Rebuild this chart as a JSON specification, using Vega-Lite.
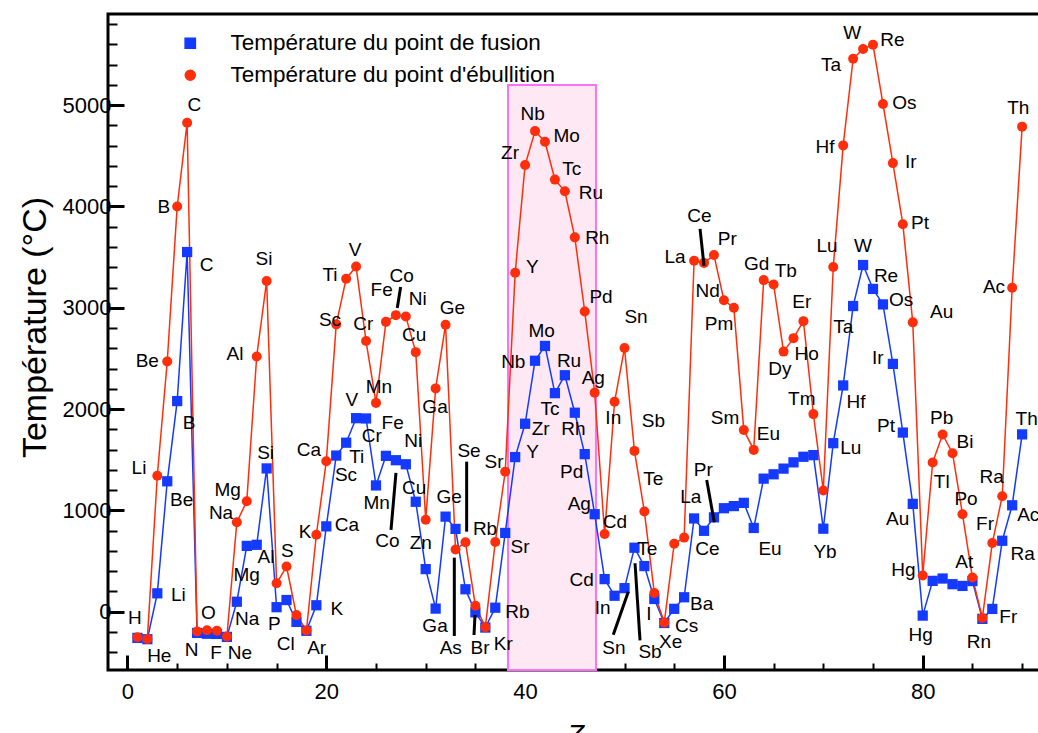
{
  "$schema": "https://vega.github.io/schema/vega-lite/v6.json",
  "width": 934,
  "height": 656,
  "autosize": {"type": "none"},
  "padding": {"left": 108, "top": 14, "right": 0, "bottom": 63},
  "config": {
    "font": "Liberation Sans",
    "view": {"stroke": "black", "strokeWidth": 3},
    "axis": {"labelFont": "Liberation Sans", "titleFont": "Liberation Sans", "titleFontWeight": "normal", "labelColor": "black", "titleColor": "black", "tickColor": "black"}
  },
  "datasets": {
    "temps": [
      {"Z":1,"el":"H","fusion":-259,"ebullition":-253},
      {"Z":2,"el":"He","fusion":-272,"ebullition":-269},
      {"Z":3,"el":"Li","fusion":181,"ebullition":1342},
      {"Z":4,"el":"Be","fusion":1287,"ebullition":2470},
      {"Z":5,"el":"B","fusion":2079,"ebullition":4000},
      {"Z":6,"el":"C","fusion":3550,"ebullition":4827},
      {"Z":7,"el":"N","fusion":-210,"ebullition":-196},
      {"Z":8,"el":"O","fusion":-218,"ebullition":-183},
      {"Z":9,"el":"F","fusion":-220,"ebullition":-188},
      {"Z":10,"el":"Ne","fusion":-249,"ebullition":-246},
      {"Z":11,"el":"Na","fusion":98,"ebullition":883},
      {"Z":12,"el":"Mg","fusion":649,"ebullition":1090},
      {"Z":13,"el":"Al","fusion":660,"ebullition":2519},
      {"Z":14,"el":"Si","fusion":1414,"ebullition":3265},
      {"Z":15,"el":"P","fusion":44,"ebullition":280},
      {"Z":16,"el":"S","fusion":115,"ebullition":445},
      {"Z":17,"el":"Cl","fusion":-101,"ebullition":-34},
      {"Z":18,"el":"Ar","fusion":-189,"ebullition":-186},
      {"Z":19,"el":"K","fusion":63,"ebullition":759},
      {"Z":20,"el":"Ca","fusion":842,"ebullition":1484},
      {"Z":21,"el":"Sc","fusion":1541,"ebullition":2836},
      {"Z":22,"el":"Ti","fusion":1668,"ebullition":3287},
      {"Z":23,"el":"V","fusion":1910,"ebullition":3407},
      {"Z":24,"el":"Cr","fusion":1907,"ebullition":2671},
      {"Z":25,"el":"Mn","fusion":1246,"ebullition":2061},
      {"Z":26,"el":"Fe","fusion":1538,"ebullition":2861},
      {"Z":27,"el":"Co","fusion":1495,"ebullition":2927},
      {"Z":28,"el":"Ni","fusion":1455,"ebullition":2913},
      {"Z":29,"el":"Cu","fusion":1085,"ebullition":2562},
      {"Z":30,"el":"Zn","fusion":420,"ebullition":907},
      {"Z":31,"el":"Ga","fusion":30,"ebullition":2204},
      {"Z":32,"el":"Ge","fusion":938,"ebullition":2833},
      {"Z":33,"el":"As","fusion":817,"ebullition":614},
      {"Z":34,"el":"Se","fusion":221,"ebullition":685},
      {"Z":35,"el":"Br","fusion":-7,"ebullition":59},
      {"Z":36,"el":"Kr","fusion":-157,"ebullition":-153},
      {"Z":37,"el":"Rb","fusion":39,"ebullition":688},
      {"Z":38,"el":"Sr","fusion":777,"ebullition":1382},
      {"Z":39,"el":"Y","fusion":1526,"ebullition":3345},
      {"Z":40,"el":"Zr","fusion":1855,"ebullition":4409},
      {"Z":41,"el":"Nb","fusion":2477,"ebullition":4744},
      {"Z":42,"el":"Mo","fusion":2623,"ebullition":4639},
      {"Z":43,"el":"Tc","fusion":2157,"ebullition":4265},
      {"Z":44,"el":"Ru","fusion":2334,"ebullition":4150},
      {"Z":45,"el":"Rh","fusion":1964,"ebullition":3695},
      {"Z":46,"el":"Pd","fusion":1555,"ebullition":2963},
      {"Z":47,"el":"Ag","fusion":962,"ebullition":2162},
      {"Z":48,"el":"Cd","fusion":321,"ebullition":767},
      {"Z":49,"el":"In","fusion":157,"ebullition":2072},
      {"Z":50,"el":"Sn","fusion":232,"ebullition":2602},
      {"Z":51,"el":"Sb","fusion":631,"ebullition":1587},
      {"Z":52,"el":"Te","fusion":450,"ebullition":988},
      {"Z":53,"el":"I","fusion":125,"ebullition":184},
      {"Z":54,"el":"Xe","fusion":-112,"ebullition":-108},
      {"Z":55,"el":"Cs","fusion":28,"ebullition":671},
      {"Z":56,"el":"Ba","fusion":142,"ebullition":731},
      {"Z":57,"el":"La","fusion":920,"ebullition":3464},
      {"Z":58,"el":"Ce","fusion":798,"ebullition":3443},
      {"Z":59,"el":"Pr","fusion":931,"ebullition":3520},
      {"Z":60,"el":"Nd","fusion":1021,"ebullition":3074},
      {"Z":61,"el":"Pm","fusion":1042,"ebullition":3000},
      {"Z":62,"el":"Sm","fusion":1074,"ebullition":1794},
      {"Z":63,"el":"Eu","fusion":826,"ebullition":1597},
      {"Z":64,"el":"Gd","fusion":1313,"ebullition":3273},
      {"Z":65,"el":"Tb","fusion":1356,"ebullition":3230},
      {"Z":66,"el":"Dy","fusion":1412,"ebullition":2567},
      {"Z":67,"el":"Ho","fusion":1474,"ebullition":2700},
      {"Z":68,"el":"Er","fusion":1529,"ebullition":2868},
      {"Z":69,"el":"Tm","fusion":1545,"ebullition":1950},
      {"Z":70,"el":"Yb","fusion":819,"ebullition":1196},
      {"Z":71,"el":"Lu","fusion":1663,"ebullition":3402},
      {"Z":72,"el":"Hf","fusion":2233,"ebullition":4603},
      {"Z":73,"el":"Ta","fusion":3017,"ebullition":5458},
      {"Z":74,"el":"W","fusion":3422,"ebullition":5555},
      {"Z":75,"el":"Re","fusion":3186,"ebullition":5596},
      {"Z":76,"el":"Os","fusion":3033,"ebullition":5012},
      {"Z":77,"el":"Ir","fusion":2446,"ebullition":4428},
      {"Z":78,"el":"Pt","fusion":1768,"ebullition":3825},
      {"Z":79,"el":"Au","fusion":1064,"ebullition":2856},
      {"Z":80,"el":"Hg","fusion":-39,"ebullition":357},
      {"Z":81,"el":"Tl","fusion":304,"ebullition":1473},
      {"Z":82,"el":"Pb","fusion":327,"ebullition":1749},
      {"Z":83,"el":"Bi","fusion":271,"ebullition":1564},
      {"Z":84,"el":"Po","fusion":254,"ebullition":962},
      {"Z":85,"el":"At","fusion":302,"ebullition":337},
      {"Z":86,"el":"Rn","fusion":-71,"ebullition":-62},
      {"Z":87,"el":"Fr","fusion":27,"ebullition":677},
      {"Z":88,"el":"Ra","fusion":700,"ebullition":1140},
      {"Z":89,"el":"Ac","fusion":1050,"ebullition":3198},
      {"Z":90,"el":"Th","fusion":1750,"ebullition":4788}
    ],
    "labels": [
      {"lab":"H","lz":0.75,"lt":-65},
      {"lab":"He","lz":3.2,"lt":-434},
      {"lab":"Li","lz":5.11,"lt":165},
      {"lab":"Li","lz":1.16,"lt":1422},
      {"lab":"Be","lz":5.45,"lt":1103},
      {"lab":"Be","lz":1.99,"lt":2475},
      {"lab":"B","lz":6.19,"lt":1866},
      {"lab":"B","lz":3.67,"lt":3998},
      {"lab":"C","lz":6.72,"lt":5002},
      {"lab":"C","lz":7.97,"lt":3423},
      {"lab":"N","lz":6.46,"lt":-378},
      {"lab":"O","lz":8.13,"lt":-10},
      {"lab":"F","lz":8.9,"lt":-405},
      {"lab":"Ne","lz":11.32,"lt":-405},
      {"lab":"Na","lz":12.05,"lt":-75},
      {"lab":"Na","lz":9.41,"lt":977},
      {"lab":"Mg","lz":11.99,"lt":362},
      {"lab":"Mg","lz":10.08,"lt":1201},
      {"lab":"Al","lz":13.93,"lt":537},
      {"lab":"Al","lz":10.81,"lt":2541},
      {"lab":"Si","lz":13.9,"lt":1564},
      {"lab":"Si","lz":13.73,"lt":3479},
      {"lab":"P","lz":14.77,"lt":-121},
      {"lab":"S","lz":16.08,"lt":599},
      {"lab":"Cl","lz":15.92,"lt":-319},
      {"lab":"Ar","lz":19.03,"lt":-361},
      {"lab":"K","lz":17.86,"lt":790},
      {"lab":"K","lz":21.05,"lt":24},
      {"lab":"Ca","lz":18.26,"lt":1593},
      {"lab":"Ca","lz":22.08,"lt":856},
      {"lab":"Sc","lz":20.37,"lt":2880},
      {"lab":"Sc","lz":21.98,"lt":1349},
      {"lab":"Ti","lz":20.37,"lt":3324},
      {"lab":"Ti","lz":23.06,"lt":1524},
      {"lab":"V","lz":22.89,"lt":3571},
      {"lab":"V","lz":22.56,"lt":2090},
      {"lab":"Cr","lz":23.72,"lt":2837},
      {"lab":"Cr","lz":24.57,"lt":1734},
      {"lab":"Mn","lz":25.3,"lt":2215},
      {"lab":"Mn","lz":25.07,"lt":1076},
      {"lab":"Fe","lz":25.57,"lt":3176},
      {"lab":"Fe","lz":26.68,"lt":1866},
      {"lab":"Co","lz":27.59,"lt":3314},
      {"lab":"Co","lz":26.14,"lt":698},
      {"lab":"Ni","lz":29.19,"lt":3084},
      {"lab":"Ni","lz":28.75,"lt":1685},
      {"lab":"Cu","lz":28.85,"lt":2731},
      {"lab":"Cu","lz":28.85,"lt":1218},
      {"lab":"Zn","lz":29.5,"lt":675},
      {"lab":"Ga","lz":30.94,"lt":2018},
      {"lab":"Ga","lz":30.94,"lt":-138},
      {"lab":"Ge","lz":32.68,"lt":3001},
      {"lab":"Ge","lz":32.37,"lt":1135},
      {"lab":"As","lz":32.52,"lt":-355},
      {"lab":"Se","lz":34.36,"lt":1589},
      {"lab":"Br","lz":35.46,"lt":-355},
      {"lab":"Kr","lz":37.81,"lt":-322},
      {"lab":"Rb","lz":35.97,"lt":813},
      {"lab":"Rb","lz":39.22,"lt":-6},
      {"lab":"Sr","lz":36.87,"lt":1481},
      {"lab":"Sr","lz":39.49,"lt":642},
      {"lab":"Y","lz":40.72,"lt":3406},
      {"lab":"Y","lz":40.76,"lt":1574},
      {"lab":"Zr","lz":38.48,"lt":4525},
      {"lab":"Zr","lz":41.57,"lt":1804},
      {"lab":"Nb","lz":40.76,"lt":4913},
      {"lab":"Nb","lz":38.81,"lt":2468},
      {"lab":"Mo","lz":44.19,"lt":4696},
      {"lab":"Mo","lz":41.67,"lt":2771},
      {"lab":"Tc","lz":44.69,"lt":4367},
      {"lab":"Tc","lz":42.51,"lt":1998},
      {"lab":"Ru","lz":46.63,"lt":4130},
      {"lab":"Ru","lz":44.42,"lt":2475},
      {"lab":"Rh","lz":47.26,"lt":3692},
      {"lab":"Rh","lz":44.85,"lt":1804},
      {"lab":"Pd","lz":47.64,"lt":3104},
      {"lab":"Pd","lz":44.69,"lt":1382},
      {"lab":"Ag","lz":46.86,"lt":2304},
      {"lab":"Ag","lz":45.45,"lt":1063},
      {"lab":"Cd","lz":49.04,"lt":888},
      {"lab":"Cd","lz":45.69,"lt":313},
      {"lab":"In","lz":48.87,"lt":1909},
      {"lab":"In","lz":47.81,"lt":34},
      {"lab":"Sn","lz":51.16,"lt":2912},
      {"lab":"Sn","lz":48.94,"lt":-355},
      {"lab":"Sb","lz":52.9,"lt":1883},
      {"lab":"Sb","lz":52.57,"lt":-401},
      {"lab":"Te","lz":52.9,"lt":1307},
      {"lab":"Te","lz":52.29,"lt":619},
      {"lab":"I","lz":52.46,"lt":-23},
      {"lab":"Xe","lz":54.65,"lt":-302},
      {"lab":"Cs","lz":56.26,"lt":-138},
      {"lab":"Ba","lz":57.77,"lt":76},
      {"lab":"La","lz":55.08,"lt":3499},
      {"lab":"La","lz":56.66,"lt":1129},
      {"lab":"Ce","lz":57.53,"lt":3906},
      {"lab":"Ce","lz":58.33,"lt":619},
      {"lab":"Pr","lz":60.34,"lt":3676},
      {"lab":"Pr","lz":57.93,"lt":1399},
      {"lab":"Nd","lz":58.37,"lt":3169},
      {"lab":"Pm","lz":59.51,"lt":2840},
      {"lab":"Sm","lz":60.11,"lt":1909},
      {"lab":"Eu","lz":64.47,"lt":1754},
      {"lab":"Eu","lz":64.64,"lt":619},
      {"lab":"Gd","lz":63.3,"lt":3432},
      {"lab":"Tb","lz":66.22,"lt":3366},
      {"lab":"Dy","lz":65.64,"lt":2396},
      {"lab":"Ho","lz":68.33,"lt":2541},
      {"lab":"Er","lz":67.83,"lt":3054},
      {"lab":"Tm","lz":67.83,"lt":2100},
      {"lab":"Yb","lz":70.17,"lt":592},
      {"lab":"Lu","lz":70.37,"lt":3610},
      {"lab":"Lu","lz":72.76,"lt":1613},
      {"lab":"Hf","lz":70.17,"lt":4590},
      {"lab":"Hf","lz":73.29,"lt":2067},
      {"lab":"Ta","lz":70.77,"lt":5397},
      {"lab":"Ta","lz":72.01,"lt":2807},
      {"lab":"W","lz":72.92,"lt":5710},
      {"lab":"W","lz":73.99,"lt":3610},
      {"lab":"Re","lz":76.94,"lt":5644},
      {"lab":"Re","lz":76.31,"lt":3314},
      {"lab":"Os","lz":78.15,"lt":5019},
      {"lab":"Os","lz":77.82,"lt":3077},
      {"lab":"Ir","lz":78.79,"lt":4442},
      {"lab":"Ir","lz":75.47,"lt":2507},
      {"lab":"Pt","lz":79.73,"lt":3840},
      {"lab":"Pt","lz":76.31,"lt":1836},
      {"lab":"Au","lz":81.91,"lt":2956},
      {"lab":"Au","lz":77.48,"lt":912},
      {"lab":"Hg","lz":78.05,"lt":412},
      {"lab":"Hg","lz":79.8,"lt":-230},
      {"lab":"Tl","lz":81.91,"lt":1277},
      {"lab":"Pb","lz":81.91,"lt":1909},
      {"lab":"Bi","lz":84.26,"lt":1672},
      {"lab":"Po","lz":84.36,"lt":1113},
      {"lab":"At","lz":84.18,"lt":494},
      {"lab":"Rn","lz":85.66,"lt":-296},
      {"lab":"Fr","lz":86.27,"lt":863},
      {"lab":"Fr","lz":88.61,"lt":-49},
      {"lab":"Ra","lz":86.94,"lt":1333},
      {"lab":"Ra","lz":90.06,"lt":570},
      {"lab":"Ac","lz":87.17,"lt":3208},
      {"lab":"Ac","lz":90.62,"lt":955},
      {"lab":"Th","lz":89.62,"lt":4969},
      {"lab":"Th","lz":90.46,"lt":1902}
    ],
    "leaders": [
      {"z1":27.48,"t1":3205,"z2":27.14,"t2":2998},
      {"z1":27.01,"t1":1369,"z2":26.51,"t2":807},
      {"z1":34.12,"t1":1481,"z2":34.12,"t2":790},
      {"z1":32.88,"t1":533,"z2":32.88,"t2":-240},
      {"z1":34.96,"t1":-33,"z2":34.86,"t2":-230},
      {"z1":50.38,"t1":197,"z2":48.87,"t2":-227},
      {"z1":51.06,"t1":478,"z2":51.56,"t2":-283},
      {"z1":57.6,"t1":3778,"z2":58.0,"t2":3413},
      {"z1":58.27,"t1":1300,"z2":59.03,"t2":883}
    ],
    "zone": [
      {"z1":38.28,"z2":47.13,"t1":-576,"t2":5200}
    ]
  },
  "layer": [
    {
      "data": {"name": "zone"},
      "mark": {"type": "rect", "fill": "#FDE8F4", "stroke": "#FF70F5", "strokeWidth": 2},
      "encoding": {
        "x": {"field": "z1", "type": "quantitative", "title": "Z"},
        "x2": {"field": "z2"},
        "y": {"field": "t1", "type": "quantitative", "title": "Température (°C)"},
        "y2": {"field": "t2"}
      }
    },
    {
      "data": {"name": "temps"},
      "transform": [{"fold": ["fusion", "ebullition"], "as": ["serie", "T"]}],
      "mark": {"type": "line", "strokeWidth": 1.5},
      "encoding": {
        "x": {"field": "Z", "type": "quantitative", "title": "Z"},
        "y": {"field": "T", "type": "quantitative", "title": "Température (°C)"},
        "color": {"field": "serie", "type": "nominal",
          "scale": {"domain": ["fusion", "ebullition"], "range": ["#1439FF", "#FF2E0A"]},
          "legend": {
            "orient": "none", "legendX": 71, "legendY": 18, "title": null,
            "padding": 0, "labelFontSize": 22.5, "labelFont": "Liberation Sans", "labelColor": "black",
            "labelLimit": 0, "labelOffset": 29, "rowPadding": 9, "symbolSize": 144,
            "labelExpr": "datum.label === 'fusion' ? 'Température du point de fusion' : \"Température du point d'ébullition\""
          }}
      }
    },
    {
      "data": {"name": "temps"},
      "transform": [{"fold": ["fusion", "ebullition"], "as": ["serie", "T"]}],
      "mark": {"type": "point", "filled": true, "opacity": 1},
      "encoding": {
        "x": {"field": "Z", "type": "quantitative", "title": "Z"},
        "y": {"field": "T", "type": "quantitative", "title": "Température (°C)"},
        "size": {"field": "serie", "type": "nominal", "legend": null,
          "scale": {"domain": ["fusion", "ebullition"], "range": [105, 100]}},
        "shape": {"field": "serie", "type": "nominal", "legend": null,
          "scale": {"domain": ["fusion", "ebullition"], "range": ["square", "circle"]}},
        "fill": {"field": "serie", "type": "nominal", "legend": null,
          "scale": {"domain": ["fusion", "ebullition"], "range": ["#1439FF", "#FF2E0A"]}}
      }
    },
    {
      "data": {"name": "leaders"},
      "mark": {"type": "rule", "color": "black", "strokeWidth": 3},
      "encoding": {
        "x": {"field": "z1", "type": "quantitative", "title": "Z"},
        "y": {"field": "t1", "type": "quantitative", "title": "Température (°C)"},
        "x2": {"field": "z2"},
        "y2": {"field": "t2"}
      }
    },
    {
      "data": {"name": "labels"},
      "mark": {"type": "text", "fontSize": 19, "font": "Liberation Sans", "color": "black", "align": "center", "baseline": "middle"},
      "encoding": {
        "x": {"field": "lz", "type": "quantitative", "title": "Z"},
        "y": {"field": "lt", "type": "quantitative", "title": "Température (°C)"},
        "text": {"field": "lab", "type": "nominal"}
      }
    }
  ],
  "encoding": {
    "x": {"type": "quantitative",
      "scale": {"domain": [-1.96, 92], "nice": false, "zero": false},
      "axis": {
        "values": [0,5,10,15,20,25,30,35,40,45,50,55,60,65,70,75,80,85,90],
        "labelExpr": "datum.value % 20 === 0 ? datum.label : ''",
        "domain": false, "grid": false, "labelFontSize": 22, "labelFlush": false, "labelOverlap": false,
        "tickSize": {"condition": {"test": "datum.value % 20 === 0", "value": -15}, "value": -7},
        "tickWidth": {"condition": {"test": "datum.value % 20 === 0", "value": 3}, "value": 2},
        "labelPadding": 26,
        "title": "Z", "titleFontSize": 28, "titleFontStyle": "italic", "titlePadding": 11
      }
    },
    "y": {"type": "quantitative",
      "scale": {"domain": [-576, 5900], "nice": false, "zero": false},
      "axis": {
        "values": [-400,-200,0,200,400,600,800,1000,1200,1400,1600,1800,2000,2200,2400,2600,2800,3000,3200,3400,3600,3800,4000,4200,4400,4600,4800,5000,5200,5400,5600,5800],
        "labelExpr": "datum.value % 1000 === 0 ? datum.label : ''",
        "format": "d",
        "domain": false, "grid": false, "labelFontSize": 22, "labelFlush": false, "labelOverlap": false,
        "tickSize": {"condition": {"test": "datum.value % 1000 === 0", "value": -16}, "value": -9},
        "tickWidth": {"condition": {"test": "datum.value % 1000 === 0", "value": 3}, "value": 2},
        "labelPadding": 13,
        "title": "Température (°C)", "titleFontSize": 34, "titlePadding": 10, "titleY": 313
      }
    }
  }
}
